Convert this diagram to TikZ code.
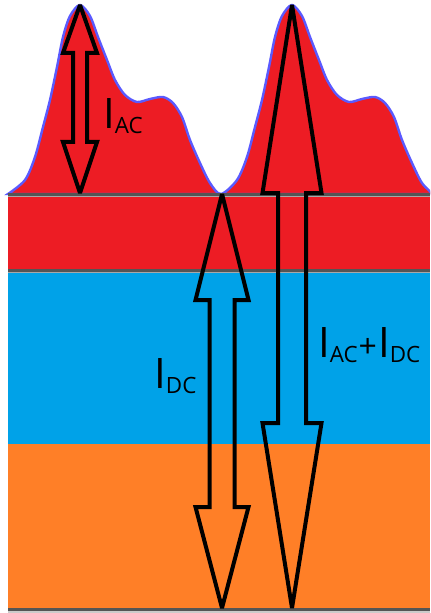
\documentclass[tikz,border=0pt]{standalone}
\usepackage{fontspec}
\setmainfont{Open Sans}
\usetikzlibrary{calc}

\definecolor{wavered}{HTML}{ED1C24}
\definecolor{dcblue}{HTML}{00A2E8}
\definecolor{baseorange}{HTML}{FF7F27}
\definecolor{outlineblue}{HTML}{5A5AFF}
\definecolor{rulegray}{HTML}{555555}
\definecolor{rulelight}{HTML}{A8A8A8}

% current symbol with lowered index
\newcommand{\curr}[1]{I\raisebox{-3.75pt}{\fontsize{16.8}{18}\selectfont #1}}
% hollow double arrow: top tip, bottom tip, head lengths, half widths
\newcommand{\hollowarrow}[6]{%
  \draw[arrowline] (#1) -- ++(#5,#3) -- ++({#6-#5},0) -- ($(#2)+(#6,-#4)$)
    -- ++({#5-#6},0) -- (#2) -- ++(-#5,-#4) -- ++({#5-#6},0)
    -- ($(#1)+(-#6,#3)$) -- ++({#6-#5},0) -- cycle;}

\begin{document}
\begin{tikzpicture}[x=0.75pt,y=-0.75pt,
  arrowline/.style={draw=black,line width=3pt,miter limit=2},
  lbl/.style={anchor=base west,inner sep=0pt,font=\fontsize{31.5}{34}\selectfont},
  seam/.style={rulegray,line width=1.6pt}]
\useasboundingbox (0,0) rectangle (430,613);
\begin{scope}
  \clip (0,0) rectangle (430,613);
  % the wave, two periods
  \filldraw[fill=wavered,draw=outlineblue,line width=1.8pt]
    plot[smooth] coordinates {(8,194) (25,180) (35,157) (43,127) (50,100)
      (57,67) (63,37) (70,16) (80,5) (90,16) (98,37) (107,60) (115,80)
      (125,95) (137,102) (150,99) (163,97) (173,103) (182,117) (190,140)
      (200,163) (210,183) (221,194)
      (237,180) (247,157) (255,127) (262,100) (269,67) (275,37) (282,16)
      (292,5) (302,16) (310,37) (319,60) (327,80) (337,95) (349,102)
      (362,99) (375,97) (385,103) (394,117) (402,140) (412,163) (422,183)
      (433,194)} -- cycle;
  % bands
  \fill[wavered] (8,194) rectangle (430,272);
  \fill[dcblue] (8,272) rectangle (430,444);
  \fill[baseorange] (8,444) rectangle (430,609);
\end{scope}
\draw[seam] (8,194.5) -- (430,194.5);
\draw[rulelight,line width=0.6pt] (8,196.3) -- (430,196.3);
\draw[seam] (8,270.5) -- (430,270.5);
\draw[rulelight,line width=0.6pt] (8,272.3) -- (430,272.3);
\draw[seam] (8,609.5) -- (430,609.5);
\fill[rulelight!60] (8,611) rectangle (430,613);

\coordinate (acTop) at (80,5);
\coordinate (acBot) at (80,193);
\coordinate (dcTop) at (222,194);
\coordinate (dcBot) at (222,608);
\coordinate (sumTop) at (292,5);
\coordinate (sumBot) at (292,608);

\hollowarrow{acTop}{acBot}{48}{51}{17}{7}
\hollowarrow{dcTop}{dcBot}{106}{101}{26.5}{12.5}
\hollowarrow{sumTop}{sumBot}{188}{185}{29.5}{14}

\node[lbl] (iac) at (103,128) {\curr{AC}};
\node[lbl] (idc) at (154,388) {\curr{DC}};
\node[lbl] (isum) at (318,357) {\curr{AC}\kern0.5pt{\fontsize{24}{26}\selectfont+}\kern1pt\curr{DC}};
\end{tikzpicture}
\end{document}
